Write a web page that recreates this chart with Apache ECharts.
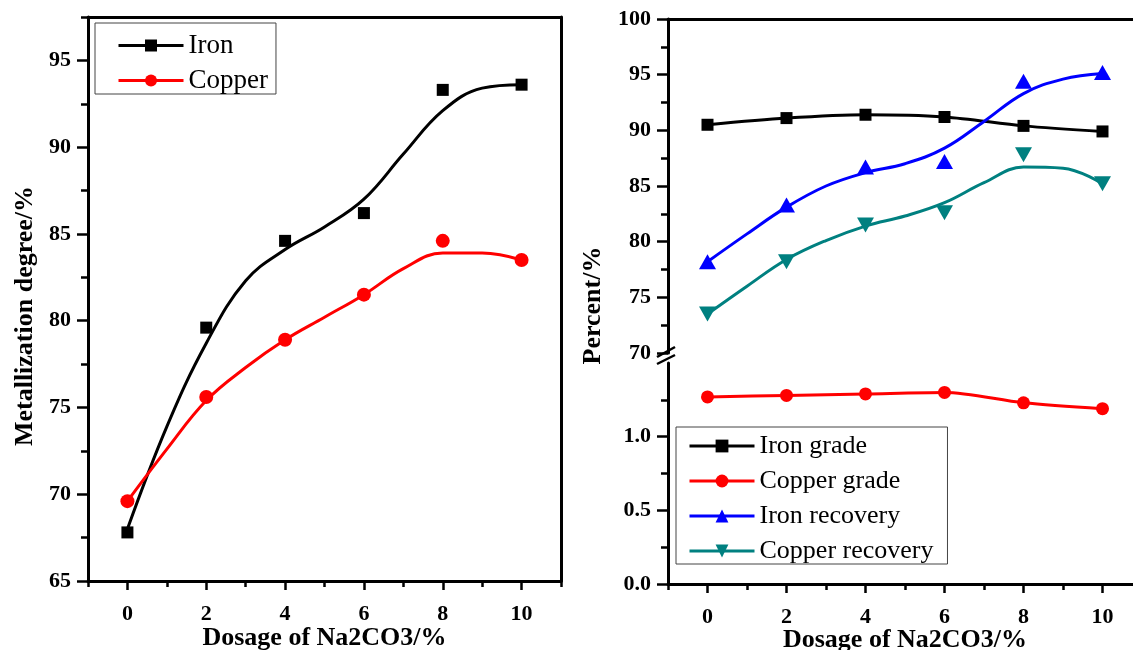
<!DOCTYPE html>
<html>
<head>
<meta charset="utf-8">
<script src="https://cdn.jsdelivr.net/npm/echarts@6/dist/echarts.min.js"></script>
<style>
  html, body { margin: 0; padding: 0; background: #fff; overflow: hidden; }
  #main { width: 1145px; height: 650px; }
</style>
</head>
<body>
<div id="main"></div>
<script>
// x values
const dosage = [0, 2, 4, 6, 8, 10]
const fitDosage = [0, 1, 2, 3, 4, 5, 6, 7, 8, 9, 10]
const majorX = [0, 2, 4, 6, 8, 10]
const minorX = [-1, 1, 3, 5, 7, 9, 11]

// left panel: metallization degree (measured + fitted curve)
const ironMetal = [67.8, 79.6, 84.6, 86.2, 93.3, 93.6]
const copperMetal = [69.6, 75.6, 78.9, 81.5, 84.6, 83.5]
const ironMetalFit = [68.0, 73.9, 78.7, 82.3, 84.1, 85.4, 87.0, 89.6, 92.1, 93.4, 93.6]
const copperMetalFit = [69.6, 72.6, 75.4, 77.3, 78.9, 80.2, 81.5, 83.0, 83.9, 83.9, 83.5]
const leftMajorY = [65, 70, 75, 80, 85, 90, 95]
const leftMinorY = [67.5, 72.5, 77.5, 82.5, 87.5, 92.5, 97.5]

// right panel: grade and recovery
const ironGrade = [90.5, 91.1, 91.4, 91.2, 90.4, 89.9]
const copperGrade = [1.27, 1.28, 1.29, 1.30, 1.23, 1.19]
const ironRecovery = [78.2, 83.3, 86.7, 87.2, 94.4, 95.2]
const copperRecovery = [73.5, 78.2, 81.5, 82.6, 87.8, 85.2]
const ironRecoveryFit = [78.2, 80.7, 83.1, 85.0, 86.2, 87.0, 88.4, 90.8, 93.3, 94.6, 95.1]
const copperRecoveryFit = [73.5, 76.0, 78.4, 80.1, 81.4, 82.3, 83.5, 85.3, 86.7, 86.6, 85.2]
const upperMajorY = [70, 75, 80, 85, 90, 95, 100]
const upperMinorY = [72.5, 77.5, 82.5, 87.5, 92.5, 97.5]
const lowerMajorY = [0, 0.5, 1.0]
const lowerMinorY = [0.25, 0.75, 1.25]

const FONT = "'Liberation Serif', 'Times New Roman', serif"
const pair = (xs, ys) => xs.map((x, i) => [x, ys[i]])
const downTri = 'path://M0,0 L10,0 L5,9 Z'

const labelStyle = { fontFamily: FONT, fontWeight: 'bold', fontSize: 22, color: '#000' }
const nameStyle = { fontFamily: FONT, fontWeight: 'bold', fontSize: 26, color: '#000' }

// axis that only draws its line (frame)
function frameAxis(gridIndex, position, min, max) {
  return {
    type: 'value', gridIndex, position, min, max,
    axisLine: { show: true, onZero: false, lineStyle: { color: '#000', width: 3 } },
    axisTick: { show: false }, axisLabel: { show: false }, splitLine: { show: false }
  }
}

// axis drawing ticks (and optionally labels) at given values
function tickAxis(gridIndex, position, min, max, ticks, len, withLabels, extra) {
  const horizontal = position === 'top' || position === 'bottom'
  return Object.assign({
    type: 'value', gridIndex, position, min, max, nameMoveOverlap: false,
    axisLine: { show: withLabels, onZero: false, lineStyle: { color: '#000', width: 3 } },
    axisTick: { show: true, customValues: ticks, length: len, lineStyle: { color: '#000', width: 2.5 } },
    axisLabel: Object.assign({ show: withLabels, customValues: ticks, margin: horizontal ? 22 : 17 }, labelStyle),
    splitLine: { show: false }
  }, extra || {})
}

const myChart = echarts.init(document.getElementById('main'), null, { renderer: 'canvas' })

myChart.setOption({
  animation: false,
  backgroundColor: '#fff',
  grid: [
    { left: 88, top: 17, width: 473, height: 564, outerBoundsMode: 'none' },
    { left: 668, top: 19, width: 474, height: 334, outerBoundsMode: 'none' },
    { left: 668, top: 363, width: 474, height: 221, outerBoundsMode: 'none' },
    { left: 668, top: 19, width: 474, height: 565, outerBoundsMode: 'none' }
  ],
  xAxis: [
    tickAxis(0, 'bottom', -1, 11, majorX, 9, true, {
      name: 'Dosage of Na2CO3/%', nameLocation: 'middle', nameGap: 44, nameTextStyle: nameStyle
    }),
    tickAxis(0, 'bottom', -1, 11, minorX, 6, false),
    frameAxis(0, 'top', -1, 11),
    frameAxis(1, 'top', -1, 11),
    tickAxis(2, 'bottom', -1, 11, majorX, 9, true, {
      name: 'Dosage of Na2CO3/%', nameLocation: 'middle', nameGap: 43, nameTextStyle: nameStyle
    }),
    tickAxis(2, 'bottom', -1, 11, minorX, 6, false),
    { type: 'value', gridIndex: 3, min: -1, max: 11, show: false }
  ],
  yAxis: [
    tickAxis(0, 'left', 65, 97.5, leftMajorY, 11, true, {
      name: 'Metallization degree/%', nameLocation: 'middle', nameGap: 50,
      nameTextStyle: Object.assign({ padding: [0, 34, 0, 0] }, nameStyle)
    }),
    tickAxis(0, 'left', 65, 97.5, leftMinorY, 7, false),
    frameAxis(0, 'right', 65, 97.5),
    tickAxis(1, 'left', 70, 100, upperMajorY, 11, true),
    tickAxis(1, 'left', 70, 100, upperMinorY, 7, false),
    tickAxis(2, 'left', 0, 1.5, lowerMajorY, 11, true, {
      axisLabel: Object.assign({ customValues: lowerMajorY, margin: 17, formatter: v => v.toFixed(1) }, labelStyle)
    }),
    tickAxis(2, 'left', 0, 1.5, lowerMinorY, 7, false),
    {
      type: 'value', gridIndex: 3, min: 0, max: 1, position: 'left', nameMoveOverlap: false,
      axisLine: { show: false }, axisTick: { show: false }, axisLabel: { show: false }, splitLine: { show: false },
      name: 'Percent/%', nameLocation: 'middle', nameGap: 62,
      nameTextStyle: Object.assign({ padding: [0, 8, 0, 0] }, nameStyle)
    }
  ],
  legend: [
    {
      data: ['Iron', 'Copper'], orient: 'vertical', left: 95, top: 23,
      itemWidth: 65, itemHeight: 15, itemGap: 8, padding: [9, 8, 0, 22],
      borderColor: '#444', borderWidth: 1, backgroundColor: '#fff', selectedMode: false,
      lineStyle: { width: 3 },
      textStyle: { fontFamily: FONT, fontSize: 27, color: '#000' }
    },
    {
      data: ['Iron grade', 'Copper grade', 'Iron recovery', 'Copper recovery'],
      orient: 'vertical', left: 676, top: 427,
      itemWidth: 65, itemHeight: 16, itemGap: 9, padding: [6, 14, 0, 12],
      borderColor: '#444', borderWidth: 1, backgroundColor: '#fff', selectedMode: false,
      lineStyle: { width: 3 },
      textStyle: { fontFamily: FONT, fontSize: 26, color: '#000' }
    }
  ],
  graphic: [
    { type: 'line', z: 100, shape: { x1: 657, y1: 357, x2: 675, y2: 347 }, style: { stroke: '#000', lineWidth: 2.5 } },
    { type: 'line', z: 100, shape: { x1: 657, y1: 364, x2: 675, y2: 355 }, style: { stroke: '#000', lineWidth: 2.5 } }
  ],
  series: [
    // left panel
    {
      name: 'Iron', type: 'line', xAxisIndex: 0, yAxisIndex: 0, smooth: 0.4,
      symbol: 'rect', showSymbol: false, color: '#000', lineStyle: { width: 3 },
      data: pair(fitDosage, ironMetalFit)
    },
    {
      name: 'Copper', type: 'line', xAxisIndex: 0, yAxisIndex: 0, smooth: 0.4,
      symbol: 'circle', showSymbol: false, color: '#ff0000', lineStyle: { width: 3 },
      data: pair(fitDosage, copperMetalFit)
    },
    {
      name: 'Iron (measured)', type: 'scatter', xAxisIndex: 0, yAxisIndex: 0,
      symbol: 'rect', symbolSize: 12, itemStyle: { color: '#000', opacity: 1 }, data: pair(dosage, ironMetal)
    },
    {
      name: 'Copper (measured)', type: 'scatter', xAxisIndex: 0, yAxisIndex: 0,
      symbol: 'circle', symbolSize: 14, itemStyle: { color: '#ff0000', opacity: 1 }, data: pair(dosage, copperMetal)
    },
    // right panel
    {
      name: 'Iron grade', type: 'line', xAxisIndex: 3, yAxisIndex: 3, smooth: 0.3,
      symbol: 'rect', symbolSize: 12, color: '#000', lineStyle: { width: 3 },
      data: pair(dosage, ironGrade)
    },
    {
      name: 'Copper grade', type: 'line', xAxisIndex: 4, yAxisIndex: 5, smooth: 0.3,
      symbol: 'circle', symbolSize: 13, color: '#ff0000', lineStyle: { width: 3 },
      data: pair(dosage, copperGrade)
    },
    {
      name: 'Iron recovery', type: 'line', xAxisIndex: 3, yAxisIndex: 3, smooth: 0.4,
      symbol: 'triangle', showSymbol: false, color: '#0000ff', lineStyle: { width: 3 },
      data: pair(fitDosage, ironRecoveryFit)
    },
    {
      name: 'Copper recovery', type: 'line', xAxisIndex: 3, yAxisIndex: 3, smooth: 0.4,
      symbol: downTri, showSymbol: false, color: '#008080', lineStyle: { width: 3 },
      data: pair(fitDosage, copperRecoveryFit)
    },
    {
      name: 'Iron recovery (measured)', type: 'scatter', xAxisIndex: 3, yAxisIndex: 3,
      symbol: 'triangle', symbolSize: [17, 15], itemStyle: { color: '#0000ff', opacity: 1 },
      data: pair(dosage, ironRecovery)
    },
    {
      name: 'Copper recovery (measured)', type: 'scatter', xAxisIndex: 3, yAxisIndex: 3,
      symbol: downTri, symbolSize: [17, 15], itemStyle: { color: '#008080', opacity: 1 },
      data: pair(dosage, copperRecovery)
    }
  ]
})
</script>
</body>
</html>
